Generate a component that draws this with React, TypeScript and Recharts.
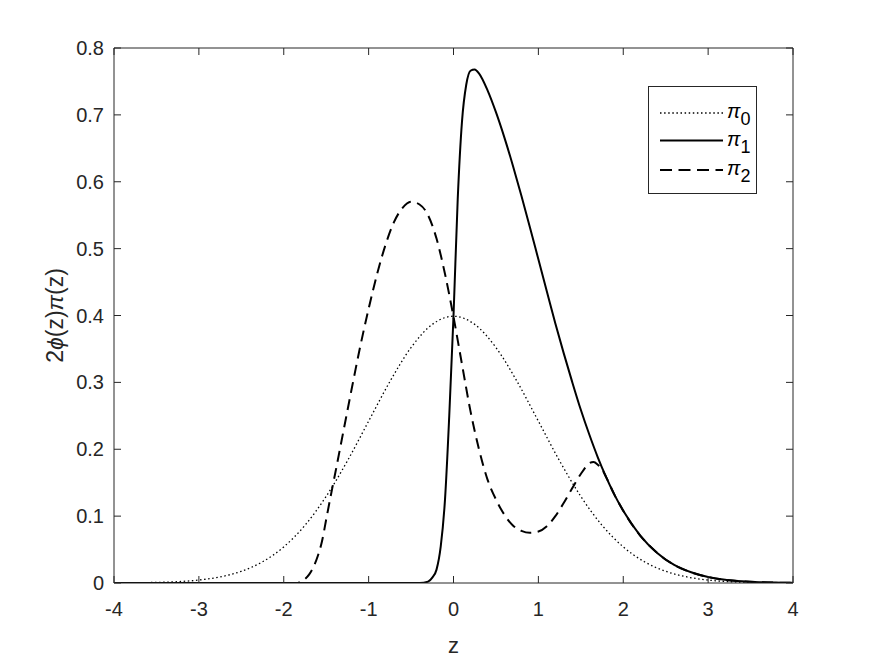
import React from "react";
import { LineChart, Line, XAxis, YAxis } from "recharts";

// z positions and values
const zPi0 = [-4, -3.75, -3.5, -3.25, -3, -2.75, -2.5, -2.25, -2, -1.75, -1.5, -1.25, -1, -0.75, -0.5, -0.25, 0, 0.25, 0.5, 0.75, 1, 1.25, 1.5, 1.75, 2, 2.25, 2.5, 2.75, 3, 3.25, 3.5, 3.75, 4];
const pi0Vals = [0.0001, 0.0004, 0.0009, 0.002, 0.0044, 0.0091, 0.0175, 0.0317, 0.054, 0.0863, 0.1295, 0.1826, 0.242, 0.3011, 0.3521, 0.3867, 0.3989, 0.3867, 0.3521, 0.3011, 0.242, 0.1826, 0.1295, 0.0863, 0.054, 0.0317, 0.0175, 0.0091, 0.0044, 0.002, 0.0009, 0.0004, 0.0001];

const zPi1 = [-4, -0.4, -0.3, -0.25, -0.2, -0.15, -0.1, -0.05, 0, 0.05, 0.1, 0.15, 0.2, 0.25, 0.3, 0.4, 0.5, 0.6, 0.7, 0.8, 0.9, 1.0, 1.1, 1.2, 1.3, 1.4, 1.5, 1.6, 1.7, 1.8, 1.9, 2.0, 2.2, 2.4, 2.6, 2.8, 3.0, 3.2, 3.4, 3.6, 3.8, 4];
const pi1Vals = [0, 0, 0.002, 0.008, 0.02, 0.055, 0.125, 0.25, 0.399, 0.575, 0.69, 0.745, 0.766, 0.768, 0.762, 0.737, 0.704, 0.666, 0.624, 0.579, 0.532, 0.484, 0.436, 0.388, 0.343, 0.3, 0.259, 0.222, 0.188, 0.158, 0.131, 0.108, 0.071, 0.045, 0.027, 0.016, 0.009, 0.0048, 0.0025, 0.0012, 0.0006, 0.0003];

const zPi2 = [-4, -1.85, -1.8, -1.75, -1.7, -1.65, -1.6, -1.55, -1.5, -1.45, -1.4, -1.3, -1.2, -1.1, -1.0, -0.9, -0.8, -0.7, -0.6, -0.5, -0.4, -0.3, -0.2, -0.1, 0, 0.1, 0.2, 0.3, 0.4, 0.5, 0.6, 0.7, 0.8, 0.9, 1.0, 1.1, 1.2, 1.3, 1.4, 1.5, 1.6, 1.65, 1.7, 1.75, 1.8, 1.9, 2.0, 2.2, 2.4, 2.6, 2.8, 3.0, 3.2, 3.4, 3.6, 3.8, 4];
const pi2Vals = [0, 0, 0.002, 0.006, 0.013, 0.024, 0.04, 0.062, 0.095, 0.128, 0.16, 0.225, 0.29, 0.353, 0.41, 0.462, 0.506, 0.54, 0.561, 0.57, 0.566, 0.55, 0.515, 0.462, 0.398, 0.327, 0.257, 0.2, 0.155, 0.125, 0.102, 0.086, 0.078, 0.075, 0.077, 0.085, 0.1, 0.12, 0.142, 0.163, 0.179, 0.181, 0.177, 0.17, 0.158, 0.131, 0.108, 0.071, 0.045, 0.027, 0.016, 0.009, 0.0048, 0.0025, 0.0012, 0.0006, 0.0003];

const xTicks = [-4, -3, -2, -1, 0, 1, 2, 3, 4];
const yTicks = [0, 0.1, 0.2, 0.3, 0.4, 0.5, 0.6, 0.7, 0.8];
const yTickLabels = ["0", "0.1", "0.2", "0.3", "0.4", "0.5", "0.6", "0.7", "0.8"];

const seriesNames = ["0", "1", "2"];

const toData = (zs: number[], vs: number[]) => zs.map((z, i) => ({ z, v: vs[i] }));
const data0 = toData(zPi0, pi0Vals);
const data1 = toData(zPi1, pi1Vals);
const data2 = toData(zPi2, pi2Vals);

const AXIS = "#262626";
const FONT = "'Liberation Sans', Arial, Helvetica, sans-serif";

const LegendBox = () => {
  const rows = [
    { y: 27, dash: "1.5 2.6", w: 1.3 },
    { y: 54.5, dash: undefined, w: 2 },
    { y: 84, dash: "12 6.5", w: 2 },
  ];
  return (
    <svg width={109} height={108} style={{ display: "block" }}>
      <rect x={0.5} y={0.5} width={108} height={107} fill="#fff" stroke={AXIS} strokeWidth={1} />
      {rows.map((r, i) => (
        <g key={i}>
          <line x1={12} x2={75} y1={r.y} y2={r.y} stroke="#000" strokeWidth={r.w} strokeDasharray={r.dash} />
          <text x={79} y={r.y + 5} fontFamily={FONT} fontSize={20} fill="#000">
            <tspan fontStyle="italic">π</tspan>
            <tspan dy={7} fontSize={18}>{seriesNames[i]}</tspan>
          </text>
        </g>
      ))}
    </svg>
  );
};

export default function App() {
  return (
    <div style={{ position: "absolute", left: 0, top: 0, width: 875, height: 657, background: "#fff" }}>
      <LineChart width={875} height={657} margin={{ top: 47, right: 81, bottom: 0, left: 0 }}>
        <XAxis
          xAxisId="b"
          dataKey="z"
          type="number"
          domain={[-4, 4]}
          ticks={xTicks}
          allowDataOverflow
          height={74}
          tickSize={-7}
          tickMargin={26}
          stroke={AXIS}
          tick={{ fill: AXIS, fontSize: 20, fontFamily: FONT }}
          interval={0}
          label={{
            content: () => (
              <text x={453.5} y={653} textAnchor="middle" fontFamily={FONT} fontSize={22} fill={AXIS}>
                z
              </text>
            ),
          }}
        />
        <XAxis
          xAxisId="t"
          orientation="top"
          dataKey="z"
          type="number"
          domain={[-4, 4]}
          ticks={xTicks}
          allowDataOverflow
          height={1}
          tickSize={-7}
          stroke={AXIS}
          tickFormatter={() => ""}
          interval={0}
        />
        <YAxis
          yAxisId="l"
          type="number"
          domain={[0, 0.8]}
          ticks={yTicks}
          allowDataOverflow
          width={114}
          tickSize={-7}
          tickMargin={17}
          stroke={AXIS}
          interval={0}
          tick={{ fill: AXIS, fontSize: 20, fontFamily: FONT }}
          tickFormatter={(v: number) => yTickLabels[yTicks.indexOf(v)] ?? String(v)}
          label={{
            content: () => (
              <text
                x={63}
                y={315.5}
                transform="rotate(-90 63 315.5)"
                textAnchor="middle"
                fontFamily={FONT}
                fontSize={23}
                fill={AXIS}
              >
                2<tspan fontStyle="italic">ϕ</tspan>(z)<tspan fontStyle="italic">π</tspan>(z)
              </text>
            ),
          }}
        />
        <YAxis
          yAxisId="r"
          orientation="right"
          type="number"
          domain={[0, 0.8]}
          ticks={yTicks}
          allowDataOverflow
          width={1}
          tickSize={-7}
          stroke={AXIS}
          interval={0}
          tickFormatter={() => ""}
        />
        <Line
          xAxisId="b"
          yAxisId="l"
          data={data0}
          dataKey="v"
          type="monotone"
          stroke="#000"
          strokeWidth={1.3}
          strokeDasharray="1.5 2.6"
          dot={false}
          isAnimationActive={false}
          name="pi0"
        />
        <Line
          xAxisId="b"
          yAxisId="l"
          data={data1}
          dataKey="v"
          type="monotone"
          stroke="#000"
          strokeWidth={2}
          dot={false}
          isAnimationActive={false}
          name="pi1"
        />
        <Line
          xAxisId="b"
          yAxisId="l"
          data={data2}
          dataKey="v"
          type="monotone"
          stroke="#000"
          strokeWidth={2}
          strokeDasharray="11 6.5"
          dot={false}
          isAnimationActive={false}
          name="pi2"
        />
      </LineChart>
      <div style={{ position: "absolute", left: 648, top: 86 }}>
        <LegendBox />
      </div>
    </div>
  );
}
